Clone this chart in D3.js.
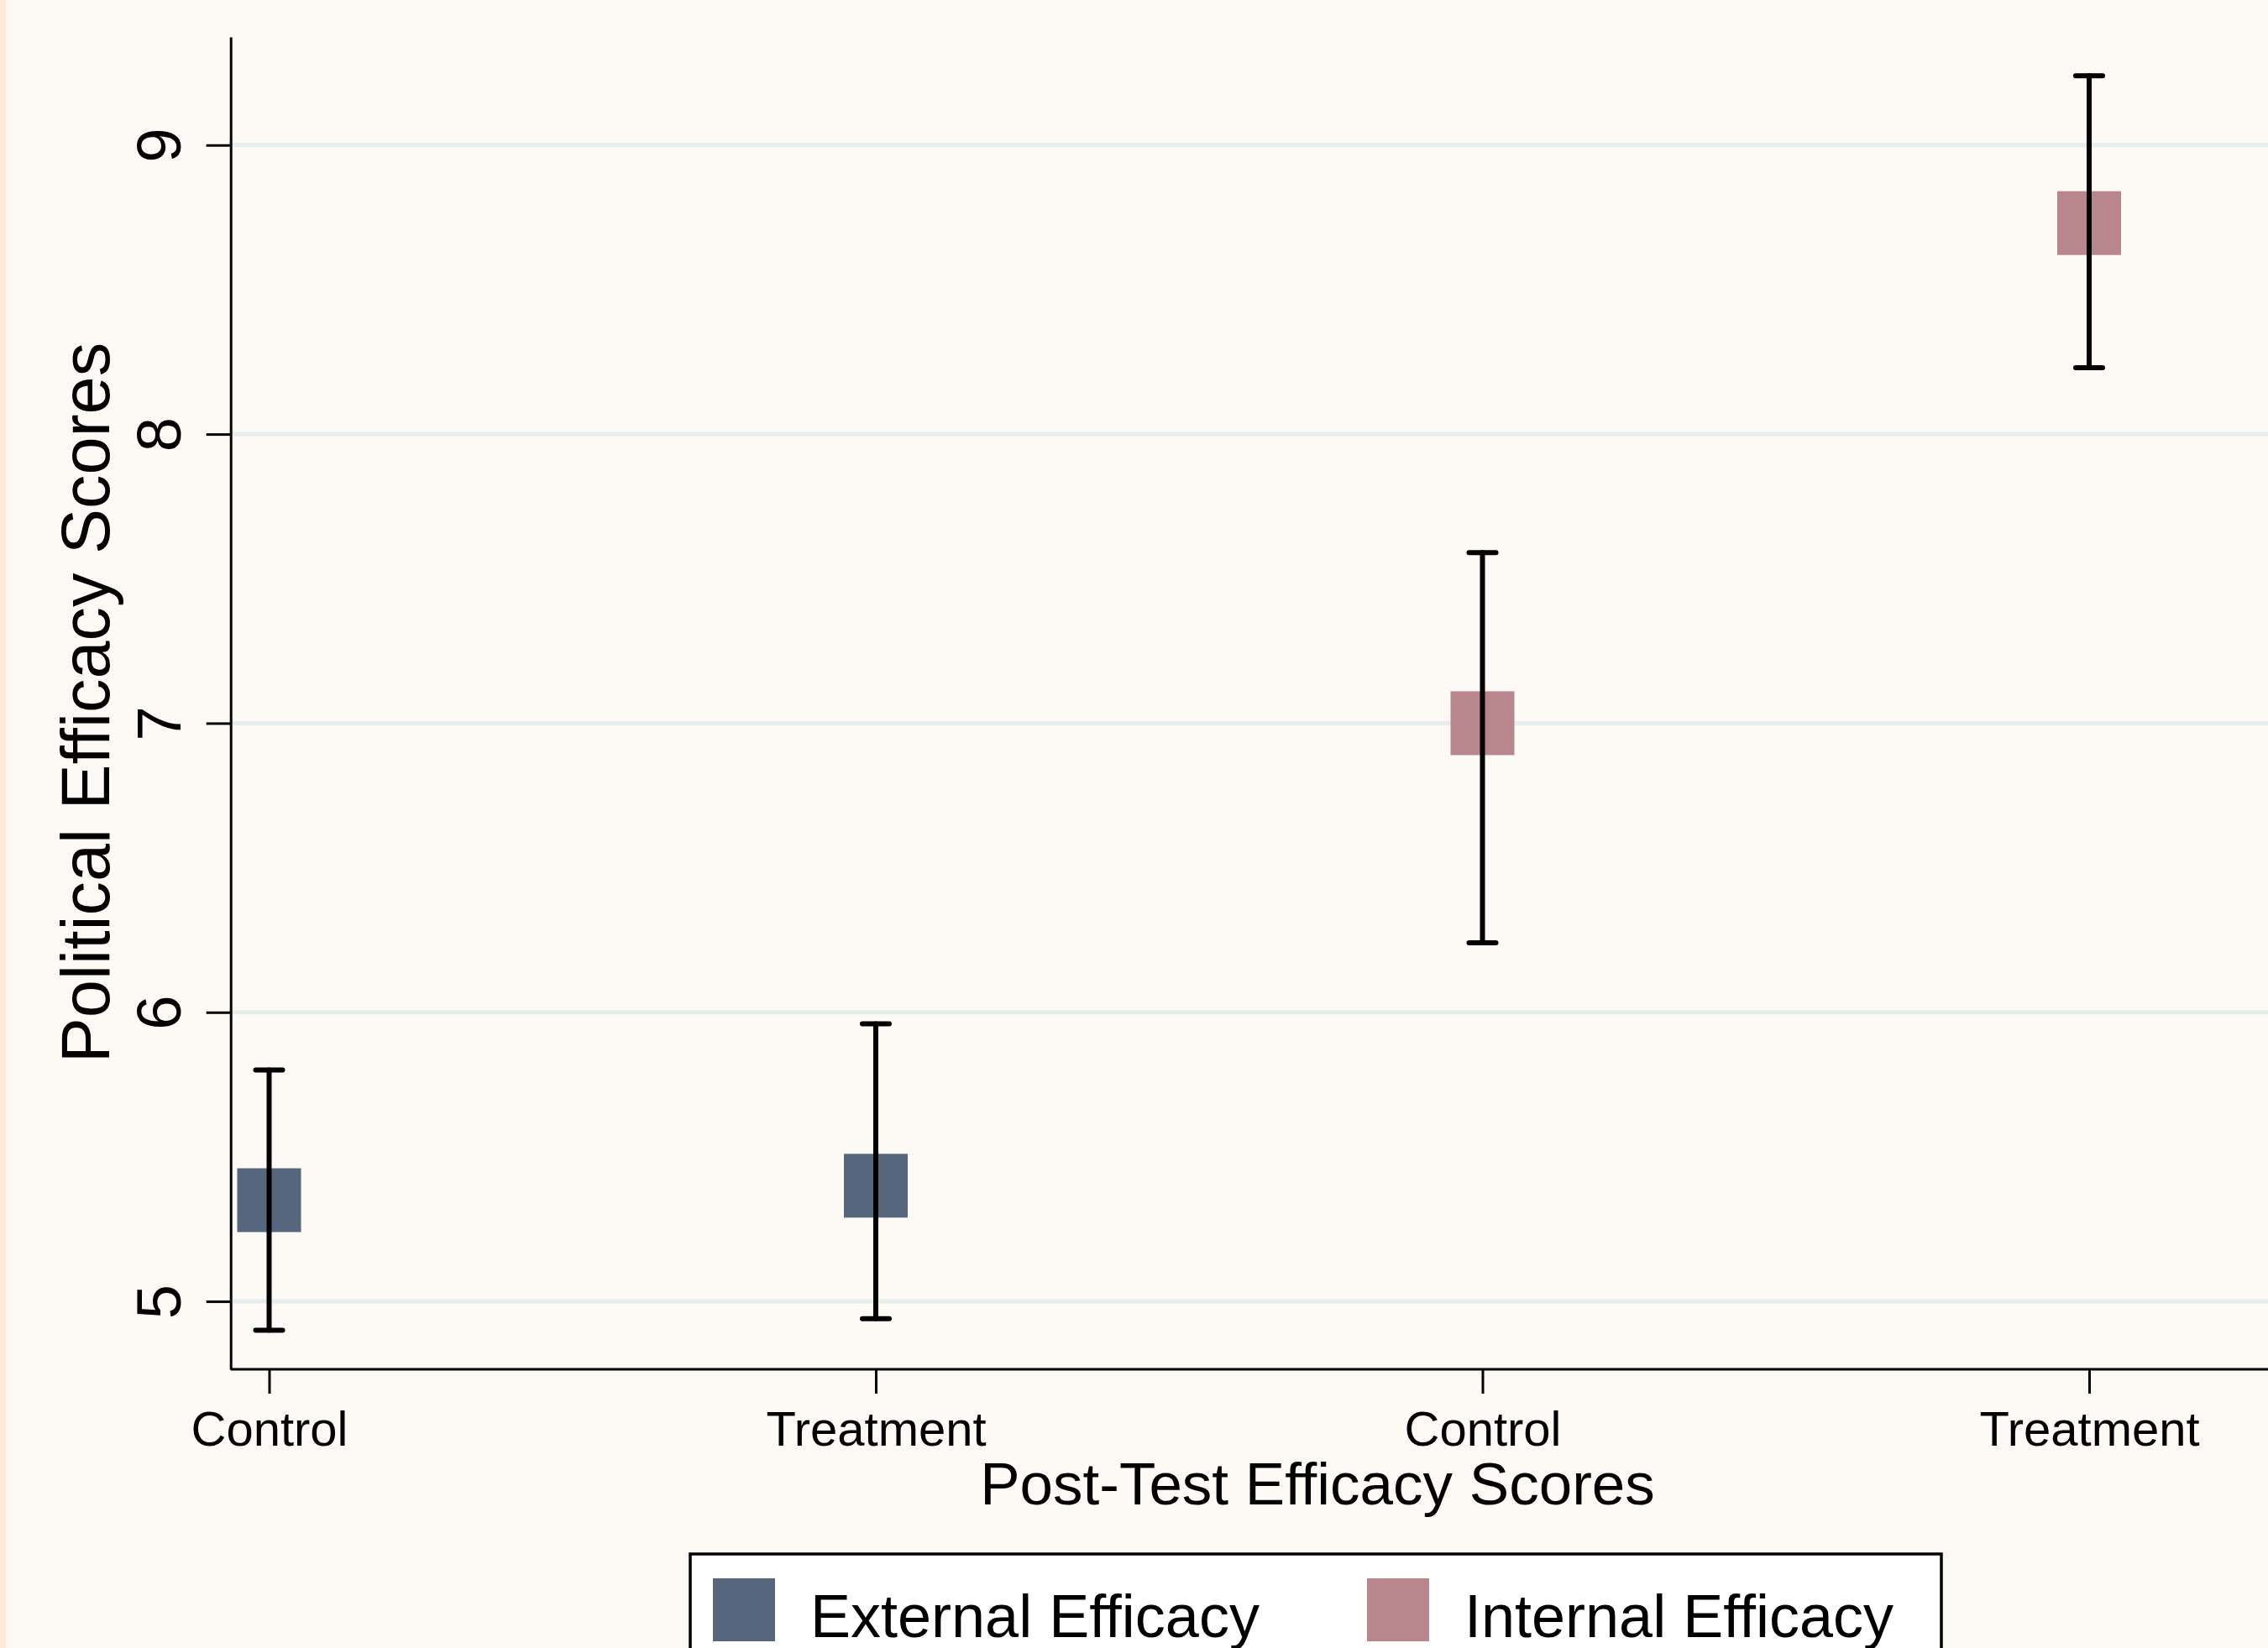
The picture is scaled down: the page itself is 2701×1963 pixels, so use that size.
<!DOCTYPE html>
<html>
<head>
<meta charset="utf-8">
<script src="https://cdn.jsdelivr.net/npm/d3@7"></script>
<style>
  html, body { margin: 0; padding: 0; background: #fdf9f5; }
  svg { display: block; font-family: "Liberation Sans", Arial, sans-serif; }
</style>
</head>
<body>
<div id="chart"></div>
<script>
const categories = ['Control', 'Treatment', 'Control', 'Treatment'];
const groups = ['External Efficacy', 'External Efficacy', 'Internal Efficacy', 'Internal Efficacy'];
const means = [5.35, 5.40, 7.00, 8.73];
const lower = [4.90, 4.94, 6.24, 8.23];
const upper = [5.80, 5.96, 7.59, 9.24];
const yTicks = [5, 6, 7, 8, 9];
const legendLabels = ['External Efficacy', 'Internal Efficacy'];

const W = 2701, H = 1963;
const axisLeftX = 274.7, axisBottomY = 1631, axisTopY = 44;

const svg = d3.select("#chart")
  .append("svg")
  .attr("width", W)
  .attr("height", H);

svg.append("rect")
  .attr("width", W).attr("height", H)
  .attr("fill", "#fdf9f5");

// thin orange strip on the left edge
svg.append("rect")
  .attr("width", 7).attr("height", H)
  .attr("fill", "#fdebd8");

const color = d3.scaleOrdinal()
  .domain(legendLabels)
  .range(["#56677d", "#ba868e"]);

const pos = categories.map((d, i) => i + 1);

const x = d3.scaleLinear()
  .domain([1, 4])
  .range([320.5, 2488]);

const y = d3.scaleLinear()
  .domain([4.765, 9.374])
  .range([axisBottomY, axisTopY]);

// gridlines
svg.append("g")
  .selectAll("line")
  .data(yTicks)
  .enter().append("line")
  .attr("x1", axisLeftX)
  .attr("x2", W)
  .attr("y1", d => y(d))
  .attr("y2", d => y(d))
  .attr("stroke", "#e6eded")
  .attr("stroke-width", 5);

// y axis
const yAxis = svg.append("g")
  .attr("transform", `translate(${axisLeftX},0)`)
  .call(d3.axisLeft(y).tickValues(yTicks).tickSize(29).tickSizeOuter(0).tickFormat(d3.format("d")));

yAxis.select(".domain").attr("stroke", "#000").attr("stroke-width", 3);
yAxis.selectAll(".tick line").attr("stroke", "#000").attr("stroke-width", 3);
yAxis.selectAll(".tick text")
  .attr("x", null)
  .attr("dy", null)
  .attr("transform", "translate(-60,0) rotate(-90)")
  .attr("text-anchor", "middle")
  .attr("font-size", 74)
  .attr("font-family", "Liberation Sans, Arial, sans-serif")
  .attr("fill", "#000");

// x axis
const xScaleAxis = d3.scaleLinear()
  .domain(x.domain())
  .range(x.range());

const xAxis = svg.append("g")
  .attr("transform", `translate(0,${axisBottomY})`)
  .call(d3.axisBottom(xScaleAxis).tickValues(pos).tickSize(29).tickSizeOuter(0)
    .tickFormat((d, i) => categories[i]));

// stretch the domain line from the y axis to the right edge
xAxis.select(".domain")
  .attr("d", `M${axisLeftX},0H${W}`)
  .attr("stroke", "#000")
  .attr("stroke-width", 3);
xAxis.selectAll(".tick line").attr("stroke", "#000").attr("stroke-width", 3);
xAxis.selectAll(".tick text")
  .attr("y", 91)
  .attr("dy", null)
  .attr("font-size", 58)
  .attr("font-family", "Liberation Sans, Arial, sans-serif")
  .attr("fill", "#000");

// markers
const sq = 76;
svg.append("g")
  .selectAll("rect")
  .data(pos)
  .enter().append("rect")
  .attr("x", (d, i) => x(d) - sq / 2)
  .attr("y", (d, i) => y(means[i]) - sq / 2)
  .attr("width", sq)
  .attr("height", sq)
  .attr("fill", (d, i) => color(groups[i]));

// error bars
const bars = svg.append("g")
  .attr("stroke", "#000")
  .attr("stroke-width", 6)
  .attr("stroke-linecap", "round");

bars.selectAll(".stem")
  .data(pos)
  .enter().append("line")
  .attr("class", "stem")
  .attr("x1", d => x(d))
  .attr("x2", d => x(d))
  .attr("y1", (d, i) => y(lower[i]))
  .attr("y2", (d, i) => y(upper[i]));

const capW = 16;
bars.selectAll(".capTop")
  .data(pos)
  .enter().append("line")
  .attr("class", "capTop")
  .attr("x1", d => x(d) - capW)
  .attr("x2", d => x(d) + capW)
  .attr("y1", (d, i) => y(upper[i]))
  .attr("y2", (d, i) => y(upper[i]));

bars.selectAll(".capBottom")
  .data(pos)
  .enter().append("line")
  .attr("class", "capBottom")
  .attr("x1", d => x(d) - capW)
  .attr("x2", d => x(d) + capW)
  .attr("y1", (d, i) => y(lower[i]))
  .attr("y2", (d, i) => y(lower[i]));

// axis titles
svg.append("text")
  .attr("transform", "translate(130,837) rotate(-90)")
  .attr("text-anchor", "middle")
  .attr("font-size", 81)
  .attr("fill", "#000")
  .text("Political Efficacy Scores");

svg.append("text")
  .attr("x", 1569)
  .attr("y", 1792)
  .attr("text-anchor", "middle")
  .attr("font-size", 71)
  .attr("fill", "#000")
  .text("Post-Test Efficacy Scores");

// legend
const legend = svg.append("g");

legend.append("rect")
  .attr("x", 822)
  .attr("y", 1851)
  .attr("width", 1490)
  .attr("height", 200)
  .attr("fill", "#ffffff")
  .attr("stroke", "#000")
  .attr("stroke-width", 3.5);

const legendX = [849, 1628];

const item = legend.selectAll(".item")
  .data(legendLabels)
  .enter().append("g")
  .attr("class", "item")
  .attr("transform", (d, i) => `translate(${legendX[i]},1880)`);

item.append("rect")
  .attr("width", 74)
  .attr("height", 75)
  .attr("fill", d => color(d));

item.append("text")
  .attr("x", 116)
  .attr("y", 70)
  .attr("font-size", 72)
  .attr("fill", "#000")
  .text(d => d);
</script>
</body>
</html>
